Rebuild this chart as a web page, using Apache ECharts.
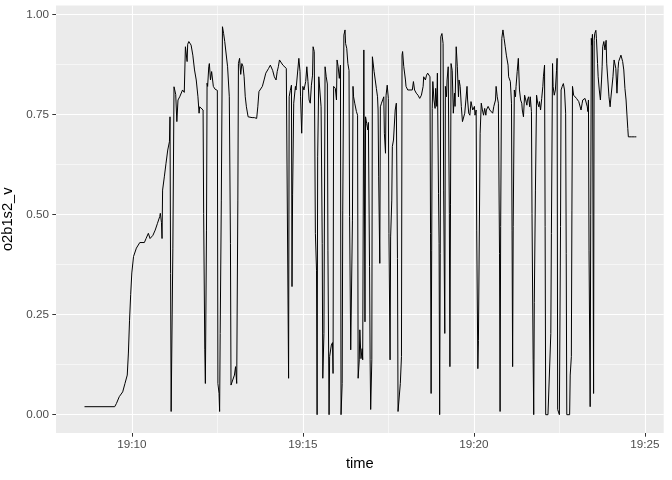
<!DOCTYPE html>
<html>
<head>
<meta charset="utf-8">
<script src="https://cdn.jsdelivr.net/npm/echarts@6.0.0/dist/echarts.min.js"></script>
<style>
html,body{margin:0;padding:0;background:#fff;}
#chart{width:672px;height:480px;}
</style>
</head>
<body>
<div id="chart"></div>
<script>
// time: seconds after 19:00:00
const timeSec = [
517,570,573,578,584,588,592,594,596,598,600,603,608,614,622,625,629,632,637,641,645,649,650,652,653,654,657,660,663,666,667,668,669,671,672,674,677,679,681,684,687,689,692,694,697,698,700,704,707,710,713,716,718,719,722,725,726,728,729,731,732,733,735,736,738,740,743,746,750,751,753,754,755,757,759,761,763,766,768,771,773,774,777,780,782,784,786,787,789,791,793,795,797,799,801,804,807,811,815,819,821,823,826,829,832,835,837,840,843,846,847,850,853,855,857,859,862,865,868,871,874,875,876,878,880,881,882,884,887,888,891,893,895,896,898,900,902,905,907,909,911,913,915,917,918,920,922,924,925,926,928,929,932,934,935,937,939,941,943,944,946,947,950,952,953,954,957,959,960,962,964,966,967,969,970,972,974,975,977,979,981,982,984,985,987,988,989,991,994,996,997,999,1000,1002,1004,1005,1007,1009,1010,1012,1014,1015,1017,1018,1019,1021,1022,1024,1025,1027,1029,1031,1032,1033,1035,1036,1038,1040,1042,1043,1045,1046,1048,1050,1051,1053,1054,1056,1057,1059,1060,1062,1064,1066,1067,1070,1071,1073,1074,1075,1077,1080,1081,1084,1087,1092,1094,1096,1099,1102,1105,1108,1111,1112,1115,1117,1119,1121,1123,1124,1125,1126,1127,1128,1130,1132,1133,1135,1136,1138,1139,1140,1141,1142,1144,1146,1147,1149,1150,1152,1153,1155,1157,1158,1159,1160,1162,1164,1166,1167,1169,1171,1173,1174,1176,1178,1180,1182,1184,1186,1188,1189,1191,1193,1195,1197,1198,1201,1202,1204,1205,1207,1208,1210,1211,1213,1215,1217,1219,1221,1222,1225,1228,1231,1233,1235,1238,1239,1241,1243,1245,1246,1247,1249,1251,1253,1255,1257,1260,1261,1264,1266,1267,1268,1269,1271,1273,1274,1276,1278,1280,1282,1284,1285,1287,1289,1291,1293,1294,1296,1298,1299,1301,1302,1304,1305,1306,1308,1310,1312,1314,1315,1317,1319,1321,1322,1324,1325,1326,1330,1333,1335,1336,1338,1339,1341,1343,1345,1346,1347,1350,1352,1353,1355,1357,1359,1361,1362,1363,1368,1369,1371,1372,1373,1375,1377,1378,1380,1382,1384,1386,1388,1390,1391,1393,1395,1397,1399,1400,1401,1402,1404,1405,1406,1407,1408,1410,1411,1412,1414,1415,1417,1418,1420,1422,1424,1425,1426,1428,1430,1432,1433,1435,1437,1439,1440,1442,1444,1446,1447,1449,1451,1453,1454,1456,1458,1460,1461,1463,1465,1467,1468,1470,1471,1476,1482,1485
];
const o2b1s2_v = [
0.02,0.02,0.028,0.045,0.057,0.078,0.099,0.154,0.236,0.30,0.354,0.395,0.416,0.43,0.43,0.44,0.453,0.44,0.448,0.461,0.478,0.495,0.503,0.48,0.44,0.561,0.594,0.628,0.661,0.682,0.744,0.353,0.008,0.008,0.416,0.819,0.80,0.732,0.786,0.794,0.794,0.811,0.805,0.919,0.882,0.925,0.932,0.923,0.898,0.861,0.836,0.794,0.753,0.769,0.767,0.761,0.503,0.162,0.078,0.461,0.828,0.82,0.869,0.877,0.836,0.857,0.82,0.813,0.81,0.078,0.053,0.008,0.203,0.536,0.969,0.952,0.932,0.93,0.869,0.794,0.428,0.074,0.078,0.099,0.12,0.078,0.536,0.877,0.89,0.85,0.877,0.87,0.844,0.794,0.769,0.744,0.745,0.742,0.742,0.74,0.769,0.807,0.81,0.82,0.836,0.853,0.857,0.865,0.873,0.877,0.86,0.844,0.836,0.857,0.869,0.886,0.882,0.873,0.869,0.865,0.865,0.091,0.794,0.81,0.823,0.32,0.549,0.778,0.82,0.811,0.815,0.89,0.857,0.794,0.703,0.82,0.811,0.832,0.869,0.832,0.786,0.778,0.823,0.848,0.919,0.907,0.453,0.361,0.0,0.644,0.844,0.84,0.769,0.428,0.091,0.203,0.869,0.844,0.826,0.411,0.0,0.145,0.174,0.18,0.103,0.82,0.815,0.786,0.886,0.869,0.84,0.873,0.0,0.078,0.511,0.948,0.961,0.927,0.915,0.877,0.86,0.495,0.162,0.162,0.486,0.82,0.794,0.778,0.757,0.748,0.091,0.137,0.212,0.14,0.165,0.137,0.911,0.232,0.744,0.727,0.711,0.73,0.37,0.137,0.013,0.137,0.894,0.89,0.857,0.836,0.815,0.794,0.761,0.594,0.378,0.769,0.778,0.786,0.794,0.703,0.653,0.798,0.823,0.79,0.453,0.137,0.444,0.536,0.67,0.686,0.686,0.761,0.778,0.39,0.008,0.004,0.078,0.145,0.898,0.907,0.87,0.836,0.82,0.811,0.811,0.811,0.832,0.811,0.803,0.798,0.79,0.798,0.82,0.844,0.836,0.848,0.853,0.857,0.844,0.453,0.053,0.411,0.765,0.832,0.786,0.765,0.815,0.77,0.853,0.553,0.428,0.0,0.403,0.944,0.952,0.927,0.561,0.203,0.82,0.794,0.836,0.869,0.503,0.12,0.524,0.877,0.86,0.753,0.803,0.77,0.919,0.869,0.794,0.836,0.82,0.77,0.732,0.732,0.753,0.786,0.82,0.786,0.753,0.748,0.782,0.778,0.761,0.77,0.748,0.761,0.461,0.115,0.185,0.185,0.703,0.778,0.761,0.748,0.765,0.748,0.761,0.77,0.761,0.757,0.753,0.77,0.786,0.82,0.794,0.778,0.403,0.008,0.47,0.94,0.961,0.94,0.919,0.898,0.873,0.844,0.832,0.778,0.461,0.12,0.47,0.811,0.794,0.82,0.857,0.89,0.811,0.786,0.778,0.761,0.744,0.798,0.786,0.773,0.786,0.794,0.769,0.794,0.757,0.503,0.137,0.0,0.28,0.561,0.798,0.778,0.769,0.782,0.761,0.79,0.82,0.844,0.873,0.47,0.0,0.0,0.0,0.203,0.453,0.877,0.82,0.798,0.811,0.86,0.89,0.013,0.0,0.47,0.811,0.82,0.827,0.811,0.753,0.403,0.0,0.0,0.099,0.145,0.511,0.82,0.798,0.794,0.798,0.79,0.786,0.782,0.778,0.761,0.778,0.786,0.79,0.79,0.786,0.769,0.757,0.786,0.411,0.02,0.5,0.94,0.923,0.95,0.053,0.935,0.952,0.96,0.94,0.877,0.844,0.811,0.786,0.836,0.869,0.919,0.932,0.911,0.935,0.878,0.836,0.794,0.769,0.786,0.79,0.844,0.886,0.886,0.865,0.803,0.865,0.882,0.886,0.898,0.894,0.882,0.861,0.815,0.786,0.761,0.715,0.694,0.694,0.694,0.694
];
const xMajorTicks = [600, 900, 1200, 1500];
const xMinorTicks = [750, 1050, 1350];
const yMajorTicks = [0, 0.25, 0.5, 0.75, 1.0];
const yMinorTicks = [0.125, 0.375, 0.625, 0.875];

const FONT = 'Liberation Sans, Arial, sans-serif';
function fmtTime(s) {
  const m = Math.round(s / 60);
  return '19:' + String(m).padStart(2, '0');
}
const seriesData = timeSec.map((t, i) => [t, o2b1s2_v[i]]);

const chart = echarts.init(document.getElementById('chart'), null, {renderer: 'canvas'});
chart.setOption({
  animation: false,
  backgroundColor: '#ffffff',
  grid: {
    left: 56, right: 8.3, top: 5.5, bottom: 47,
    containLabel: false, outerBoundsMode: 'none',
    show: true, backgroundColor: '#EBEBEB', borderWidth: 0
  },
  xAxis: [
    {
      type: 'value', min: 467, max: 1533,
      axisLine: {show: false, onZero: false},
      axisTick: {show: true, customValues: xMajorTicks, length: 3.7, lineStyle: {color: '#333333', width: 1}},
      axisLabel: {customValues: xMajorTicks, formatter: fmtTime, color: '#4D4D4D', fontSize: 11.7, fontFamily: FONT, margin: 6},
      splitLine: {show: true, lineStyle: {color: '#ffffff', width: 1.1}},
      name: 'time', nameLocation: 'middle', nameGap: 23,
      nameTextStyle: {color: '#000000', fontSize: 14.7, fontFamily: FONT}
    },
    {
      type: 'value', min: 467, max: 1533, position: 'bottom',
      axisLine: {show: false, onZero: false},
      axisTick: {show: false, customValues: xMinorTicks},
      axisLabel: {show: false, customValues: xMinorTicks},
      splitLine: {show: true, lineStyle: {color: '#ffffff', width: 0.55}}
    }
  ],
  yAxis: [
    {
      type: 'value', min: -0.0457, max: 1.022,
      axisLine: {show: false, onZero: false},
      axisTick: {show: true, customValues: yMajorTicks, length: 3.7, lineStyle: {color: '#333333', width: 1}},
      axisLabel: {customValues: yMajorTicks, formatter: v => v.toFixed(2), color: '#4D4D4D', fontSize: 11.7, fontFamily: FONT, margin: 7},
      splitLine: {show: true, lineStyle: {color: '#ffffff', width: 1.1}},
      name: 'o2b1s2_v', nameLocation: 'middle', nameGap: 31, nameRotate: 90,
      nameTextStyle: {color: '#000000', fontSize: 14.7, fontFamily: FONT}
    },
    {
      type: 'value', min: -0.0457, max: 1.022, position: 'left',
      axisLine: {show: false, onZero: false},
      axisTick: {show: false, customValues: yMinorTicks},
      axisLabel: {show: false, customValues: yMinorTicks},
      splitLine: {show: true, lineStyle: {color: '#ffffff', width: 0.55}}
    }
  ],
  series: [{
    type: 'line',
    xAxisIndex: 0, yAxisIndex: 0,
    data: seriesData,
    showSymbol: false, symbol: 'none',
    lineStyle: {color: '#000000', width: 1},
    silent: true
  }]
});
</script>
</body>
</html>
